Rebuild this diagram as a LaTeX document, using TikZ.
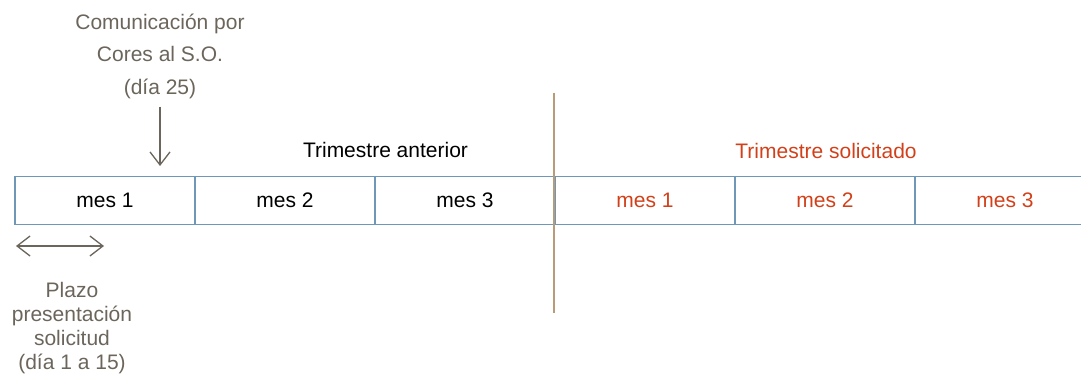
\documentclass[tikz,border=0pt]{standalone}
\usepackage{fontspec}
\setmainfont{Liberation Sans}
\usetikzlibrary{arrows.meta}
\definecolor{greytxt}{HTML}{6B655B}
\definecolor{boxblue}{HTML}{6F98B8}
\definecolor{tan}{HTML}{BA9B78}
\definecolor{redtxt}{HTML}{D2401A}
\tikzset{
  month/.style={draw=boxblue,line width=1.6pt,minimum width=180pt,minimum height=48pt,
    inner sep=0pt,font=\fontsize{21}{25}\selectfont},
  note/.style={text=greytxt,align=center,inner sep=0pt},
  barb/.style={draw=greytxt,line width=1.3pt,-{Straight Barb[length=13pt,width=20pt]}}
}
\begin{document}
\begin{tikzpicture}[x=1pt,y=-1pt]
\useasboundingbox (0,0) rectangle (1081,374);
% months
\foreach \i/\lab/\col in {1/mes 1/black,2/mes 2/black,3/mes 3/black,4/mes 1/redtxt,5/mes 2/redtxt,6/mes 3/redtxt}
  \node[month,text=\col] (m\i) at (105+180*\i-180,200.5) {\lab};
% quarter labels
\node[font=\fontsize{21}{25}\selectfont] (prev) at (385.5,150) {Trimestre anterior};
\node[font=\fontsize{21}{25}\selectfont,text=redtxt] (next) at (826,151) {Trimestre solicitado};
% separator
\draw[tan,line width=2.4pt] (554,93) -- (554,313);
% notes
\node[note,font=\fontsize{21}{32.5}\selectfont] (com) at (160,56) {Comunicación por\\Cores al S.O.\\(día 25)};
\coordinate (tip) at (160,166);
\draw[barb] ([yshift=-8pt]com.south) -- (tip);
\coordinate (pa) at (16,246);
\coordinate (pb) at (104,246);
\draw[barb,{Straight Barb[length=13pt,width=20pt]}-{Straight Barb[length=13pt,width=20pt]}] (pa) -- (pb);
\node[note,font=\fontsize{21}{24}\selectfont] (plazo) at (72,328) {Plazo\\presentación\\solicitud\\(día 1 a 15)};
\end{tikzpicture}
\end{document}
